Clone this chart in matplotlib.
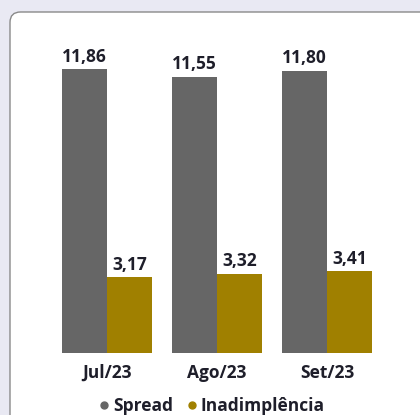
import matplotlib.pyplot as plt
from matplotlib.patches import FancyBboxPatch
from matplotlib.lines import Line2D
import numpy as np

plt.rcParams['font.family'] = ['Open Sans', 'DejaVu Sans']

months = ['Jul/23', 'Ago/23', 'Set/23']
spread = [11.86, 11.55, 11.80]
inad = [3.17, 3.32, 3.41]
labels_spread = ['11,86', '11,55', '11,80']
labels_inad = ['3,17', '3,32', '3,41']

gray = '#666666'
olive = '#A08000'
text_c = '#1E1E2A'

W, H = 420, 415
fig = plt.figure(figsize=(W / 100, H / 100), dpi=100)
fig.patch.set_facecolor('#E9E9F3')

# white rounded panel
panel = FancyBboxPatch((10 / W, -0.1), 1.2, (H - 12) / H + 0.1,
                       boxstyle='round,pad=0,rounding_size=0.025',
                       transform=fig.transFigure, facecolor='white',
                       edgecolor='#8A8A8A', linewidth=1.0, zorder=-5)
fig.patches.append(panel)

# axes placement (pixel based)
left_px, right_px = 20, 414
base_px, top_px = 353, 30
ax = fig.add_axes([left_px / W, (H - base_px) / H,
                   (right_px - left_px) / W, (base_px - top_px) / H])
ax.set_facecolor('none')
ax.set_zorder(2)

x = np.arange(len(months))
w = 0.41
unit = 110.0
ax.set_xlim(-(107 - left_px) / unit, (right_px - 107) / unit)
ax.set_ylim(0, 13.5)

b1 = ax.bar(x - w / 2, spread, w, color=gray)
b2 = ax.bar(x + w / 2, inad, w, color=olive)

fs = 12.5
for rect, lab in zip(b1, labels_spread):
    ax.text(rect.get_x() + rect.get_width() / 2, rect.get_height() + 0.15, lab,
            ha='center', va='bottom', fontsize=fs, fontweight='bold', color=text_c)
for rect, lab in zip(b2, labels_inad):
    ax.text(rect.get_x() + rect.get_width() / 2, rect.get_height() + 0.15, lab,
            ha='center', va='bottom', fontsize=fs, fontweight='bold', color=text_c)

ax.set_xticks(x)
ax.set_xticklabels(months, fontsize=fs, fontweight='bold', color=text_c)
ax.tick_params(axis='x', length=0, pad=8)
ax.set_yticks([])
for s in ax.spines.values():
    s.set_visible(False)

handles = [Line2D([], [], marker='o', linestyle='', color=gray, markersize=5),
           Line2D([], [], marker='o', linestyle='', color=olive, markersize=5)]
leg = fig.legend(handles, ['Spread', 'Inadimplência'], loc='center',
                 bbox_to_anchor=(0.5, (H - 406) / H), ncol=2, frameon=False,
                 handletextpad=0.0, columnspacing=0.6, handlelength=1.0,
                 borderpad=0, prop={'size': fs, 'weight': 'bold'})
for t in leg.get_texts():
    t.set_color(text_c)

fig.savefig('out.png', dpi=100, facecolor=fig.get_facecolor())
